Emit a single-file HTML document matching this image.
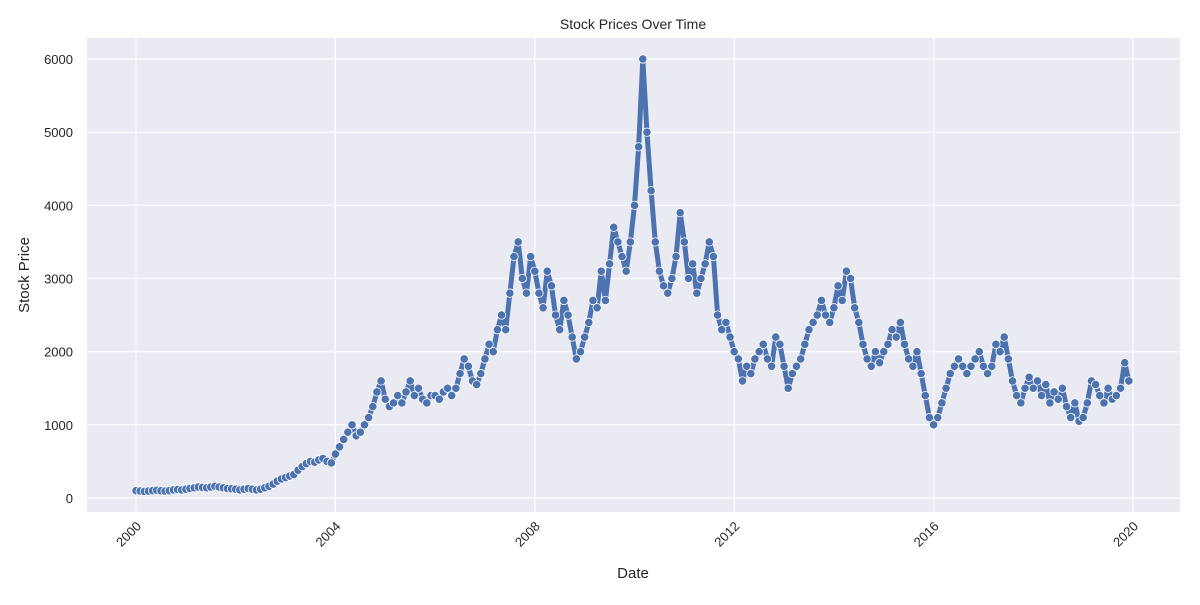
<!DOCTYPE html>
<html><head><meta charset="utf-8"><style>
body{margin:0;background:#fff;font-family:"Liberation Sans","DejaVu Sans",sans-serif}
svg text{fill:#262626}
</style></head><body>
<svg id="chart" width="1200" height="600" xmlns="http://www.w3.org/2000/svg">
<rect x="87" y="38" width="1093" height="474" fill="#eaeaf2"/>
<g id="grid"></g>
<g id="ticks"></g>
<g id="series"></g>
<text x="633" y="29" font-size="14" text-anchor="middle">Stock Prices Over Time</text>
<text x="633" y="578" font-size="15" text-anchor="middle">Date</text>
<text x="29" y="275" font-size="15" text-anchor="middle" transform="rotate(-90 29 275)">Stock Price</text>
</svg>
<script>
const yearTicks=[2000,2004,2008,2012,2016,2020];
const priceTicks=[0,1000,2000,3000,4000,5000,6000];
const startYear=2000;
const prices=[
100,95,90,95,100,105,100,95,100,110,115,110,
120,130,140,150,145,140,150,160,150,140,130,125,
120,110,120,130,120,110,120,140,160,190,230,260,
280,300,320,380,430,470,500,490,520,540,500,480,
600,700,800,900,1000,850,900,1000,1100,1250,1450,1600,
1350,1250,1300,1400,1300,1450,1600,1400,1500,1350,1300,1400,
1400,1350,1450,1500,1400,1500,1700,1900,1800,1600,1550,1700,
1900,2100,2000,2300,2500,2300,2800,3300,3500,3000,2800,3300,
3100,2800,2600,3100,2900,2500,2300,2700,2500,2200,1900,2000,
2200,2400,2700,2600,3100,2700,3200,3700,3500,3300,3100,3500,
4000,4800,6000,5000,4200,3500,3100,2900,2800,3000,3300,3900,
3500,3000,3200,2800,3000,3200,3500,3300,2500,2300,2400,2200,
2000,1900,1600,1800,1700,1900,2000,2100,1900,1800,2200,2100,
1800,1500,1700,1800,1900,2100,2300,2400,2500,2700,2500,2400,
2600,2900,2700,3100,3000,2600,2400,2100,1900,1800,2000,1850,
2000,2100,2300,2200,2400,2100,1900,1800,2000,1700,1400,1100,
1000,1100,1300,1500,1700,1800,1900,1800,1700,1800,1900,2000,
1800,1700,1800,2100,2000,2200,1900,1600,1400,1300,1500,1650,
1500,1600,1400,1550,1300,1450,1350,1500,1250,1100,1300,1050,
1100,1300,1600,1550,1400,1300,1500,1350,1400,1500,1850,1600];
const NS="http://www.w3.org/2000/svg";
const xs=y=>136+(y-2000)*(1133-136)/20;
const ys=v=>498-v*(498-59)/6000;
function mk(t,a,p){const e=document.createElementNS(NS,t);for(const k in a)e.setAttribute(k,a[k]);p.appendChild(e);return e;}
const grid=document.getElementById('grid'),ticks=document.getElementById('ticks'),ser=document.getElementById('series');
yearTicks.forEach(y=>{
 const l=mk('line',{x1:xs(y),x2:xs(y),y1:38,y2:512,stroke:'#fff','stroke-width':1.2},grid);
 
 
 const tx=xs(y)+6,ty=527;
 const t=mk('text',{x:tx,y:ty,'font-size':13,'text-anchor':'end',transform:`rotate(-45 ${tx} ${ty})`},ticks);
 t.textContent=y;
 
 
});
priceTicks.forEach(v=>{
 const l=mk('line',{x1:87,x2:1180,y1:ys(v),y2:ys(v),stroke:'#fff','stroke-width':1.2},grid);
 
 
 const t=mk('text',{x:73,y:ys(v)+5,'font-size':13,'text-anchor':'end'},ticks);
 t.textContent=v;
 
 
});
const pts=prices.map((v,i)=>[xs(startYear+i/12),ys(v)]);
const pl=mk('polyline',{points:pts.map(p=>p.join(',')).join(' '),fill:'none',stroke:'#4c72b0','stroke-width':5,'stroke-linejoin':'round'},ser);


pts.forEach(p=>{
 const c=mk('circle',{cx:p[0],cy:p[1],r:4.2,fill:'#4c72b0',stroke:'#fff','stroke-width':0.8},ser);
 
 
});
</script>
</body></html>
